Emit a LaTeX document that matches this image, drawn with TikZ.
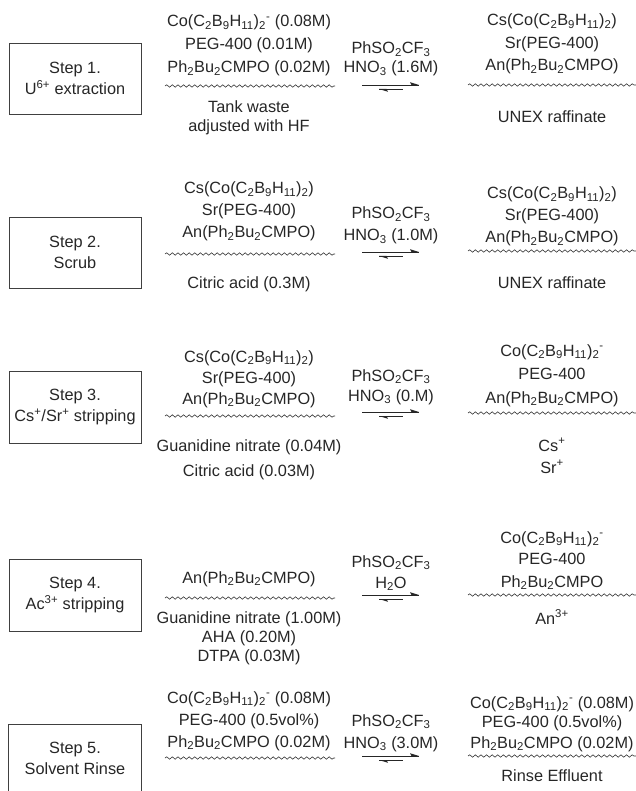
\documentclass[tikz,border=0pt]{standalone}
\usepackage{fontspec}
\setmainfont{Liberation Sans}
\usetikzlibrary{decorations.pathmorphing}
\newcommand\sbs[1]{\textsubscript{#1}}
\newcommand\sps[1]{\textsuperscript{#1}}
\newcommand\cobalt{Co(C\sbs{2}B\sbs{9}H\sbs{11})\sbs{2}\sps{-}}
\newcommand\cscob{Cs(Co(C\sbs{2}B\sbs{9}H\sbs{11})\sbs{2})}
\newcommand\ancmpo{An(Ph\sbs{2}Bu\sbs{2}CMPO)}
\newcommand\cmpo{Ph\sbs{2}Bu\sbs{2}CMPO}
\newcommand\phso{PhSO\sbs{2}CF\sbs{3}}
\begin{document}
\begin{tikzpicture}[x=1pt,y=-1pt,
  every node/.style={font=\fontsize{16.3}{21}\selectfont, inner sep=0pt, anchor=base, text=black!85},
  stepbox/.style={draw=black!75, line width=0.9pt, anchor=center, align=center, minimum width=132pt},
  wave/.style={draw=black!80, line width=0.6pt, decorate, decoration={snake, amplitude=1.2pt, segment length=5.6pt}},
  arr/.style={draw=black!85, line width=0.8pt},
  harp/.style={fill=black!85},
]
\useasboundingbox (0,0) rectangle (636,791);
\newcommand\eqarr[2]{%
  \coordinate (#1s) at (362,#2);
  \coordinate (#1e) at (419,#2);
  \coordinate (#1bs) at (379,#2+4);
  \coordinate (#1be) at (403,#2+4);
  \draw[arr] (#1s) -- (#1e);
  \fill[harp] (#1e) -- ++(-9,-2.8) -- ++(1.5,2.8) -- cycle;
  \draw[arr] (#1bs) -- (#1be);
  \fill[harp] (#1bs) -- ++(9,2.8) -- ++(-1.5,-2.8) -- cycle;
}
% ---------------- Step 1
\node[stepbox, minimum height=71pt] (b1) at (75,78.5) {Step 1.\\U\sps{6+} extraction};
\node (l1a) at (249,27) {\cobalt{} (0.08M)};
\node (l1b) at (249,50) {PEG-400 (0.01M)};
\node (l1c) at (249,73) {\cmpo{} (0.02M)};
\coordinate (w1a) at (165,86); \coordinate (w1b) at (335,86);
\draw[wave] (w1a) -- (w1b);
\node (l1d) at (249,113) {Tank waste};
\node (l1e) at (249,132) {adjusted with HF};
\node (m1a) at (391,54) {\phso};
\node (m1b) at (391,73) {HNO\sbs{3} (1.6M)};
\eqarr{a1}{85}
\node (r1a) at (552,26) {\cscob};
\node (r1b) at (552,49) {Sr(PEG-400)};
\node (r1c) at (552,71) {\ancmpo};
\coordinate (x1a) at (468,85); \coordinate (x1b) at (636,85);
\draw[wave] (x1a) -- (x1b);
\node (r1d) at (552,123) {UNEX raffinate};
% ---------------- Step 2
\node[stepbox, minimum height=71pt] (b2) at (75,252.5) {Step 2.\\Scrub};
\node (l2a) at (249,194) {\cscob};
\node (l2b) at (249,216) {Sr(PEG-400)};
\node (l2c) at (249,238) {\ancmpo};
\coordinate (w2a) at (165,254); \coordinate (w2b) at (335,254);
\draw[wave] (w2a) -- (w2b);
\node (l2d) at (249,288) {Citric acid (0.3M)};
\node (m2a) at (391,219) {\phso};
\node (m2b) at (391,241) {HNO\sbs{3} (1.0M)};
\eqarr{a2}{252}
\node (r2a) at (552,199) {\cscob};
\node (r2b) at (552,221) {Sr(PEG-400)};
\node (r2c) at (552,243) {\ancmpo};
\coordinate (x2a) at (468,251); \coordinate (x2b) at (636,251);
\draw[wave] (x2a) -- (x2b);
\node (r2d) at (552,288) {UNEX raffinate};
% ---------------- Step 3
\node[stepbox, minimum height=72pt] (b3) at (75,407) {Step 3.\\Cs\sps{+}/Sr\sps{+} stripping};
\node (l3a) at (249,362) {\cscob};
\node (l3b) at (249,383) {Sr(PEG-400)};
\node (l3c) at (249,404) {\ancmpo};
\coordinate (w3a) at (165,416); \coordinate (w3b) at (335,416);
\draw[wave] (w3a) -- (w3b);
\node (l3d) at (249,451) {Guanidine nitrate (0.04M)};
\node (l3e) at (249,476) {Citric acid (0.03M)};
\node (m3a) at (391,381) {\phso};
\node (m3b) at (391,401) {HNO\sbs{3} (0.M)};
\eqarr{a3}{412}
\node (r3a) at (552,356) {\cobalt};
\node (r3b) at (552,379) {PEG-400};
\node (r3c) at (552,403) {\ancmpo};
\coordinate (x3a) at (468,413); \coordinate (x3b) at (636,413);
\draw[wave] (x3a) -- (x3b);
\node (r3d) at (552,451) {Cs\sps{+}};
\node (r3e) at (552,473) {Sr\sps{+}};
% ---------------- Step 4
\node[stepbox, minimum height=72pt] (b4) at (75,595) {Step 4.\\Ac\sps{3+} stripping};
\node (l4a) at (249,583) {\ancmpo};
\coordinate (w4a) at (165,598); \coordinate (w4b) at (335,598);
\draw[wave] (w4a) -- (w4b);
\node (l4b) at (249,623) {Guanidine nitrate (1.00M)};
\node (l4c) at (249,642) {AHA (0.20M)};
\node (l4d) at (249,661) {DTPA (0.03M)};
\node (m4a) at (391,567) {\phso};
\node (m4b) at (391,588) {H\sbs{2}O};
\eqarr{a4}{595}
\node (r4a) at (552,543) {\cobalt};
\node (r4b) at (552,564) {PEG-400};
\node (r4c) at (552,587) {\cmpo};
\coordinate (x4a) at (468,595); \coordinate (x4b) at (636,595);
\draw[wave] (x4a) -- (x4b);
\node (r4d) at (552,624) {An\sps{3+}};
% ---------------- Step 5
\node[anchor=center, align=center, minimum width=132pt, minimum height=66pt] (b5) at (75,758) {Step 5.\\Solvent Rinse};
\draw[draw=black!75, line width=0.9pt] (b5.south west) -- (b5.north west) -- (b5.north east) -- (b5.south east);
\node (l5a) at (249,703) {\cobalt{} (0.08M)};
\node (l5b) at (249,725) {PEG-400 (0.5vol\%)};
\node (l5c) at (249,747) {\cmpo{} (0.02M)};
\coordinate (w5a) at (165,758); \coordinate (w5b) at (335,758);
\draw[wave] (w5a) -- (w5b);
\node (m5a) at (391,726) {\phso};
\node (m5b) at (391,748) {HNO\sbs{3} (3.0M)};
\eqarr{a5}{756}
\node (r5a) at (552,708) {\cobalt{} (0.08M)};
\node (r5b) at (552,727) {PEG-400 (0.5vol\%)};
\node (r5c) at (552,748) {\cmpo{} (0.02M)};
\coordinate (x5a) at (468,756); \coordinate (x5b) at (636,756);
\draw[wave] (x5a) -- (x5b);
\node (r5d) at (552,781) {Rinse Effluent};
\end{tikzpicture}
\end{document}
